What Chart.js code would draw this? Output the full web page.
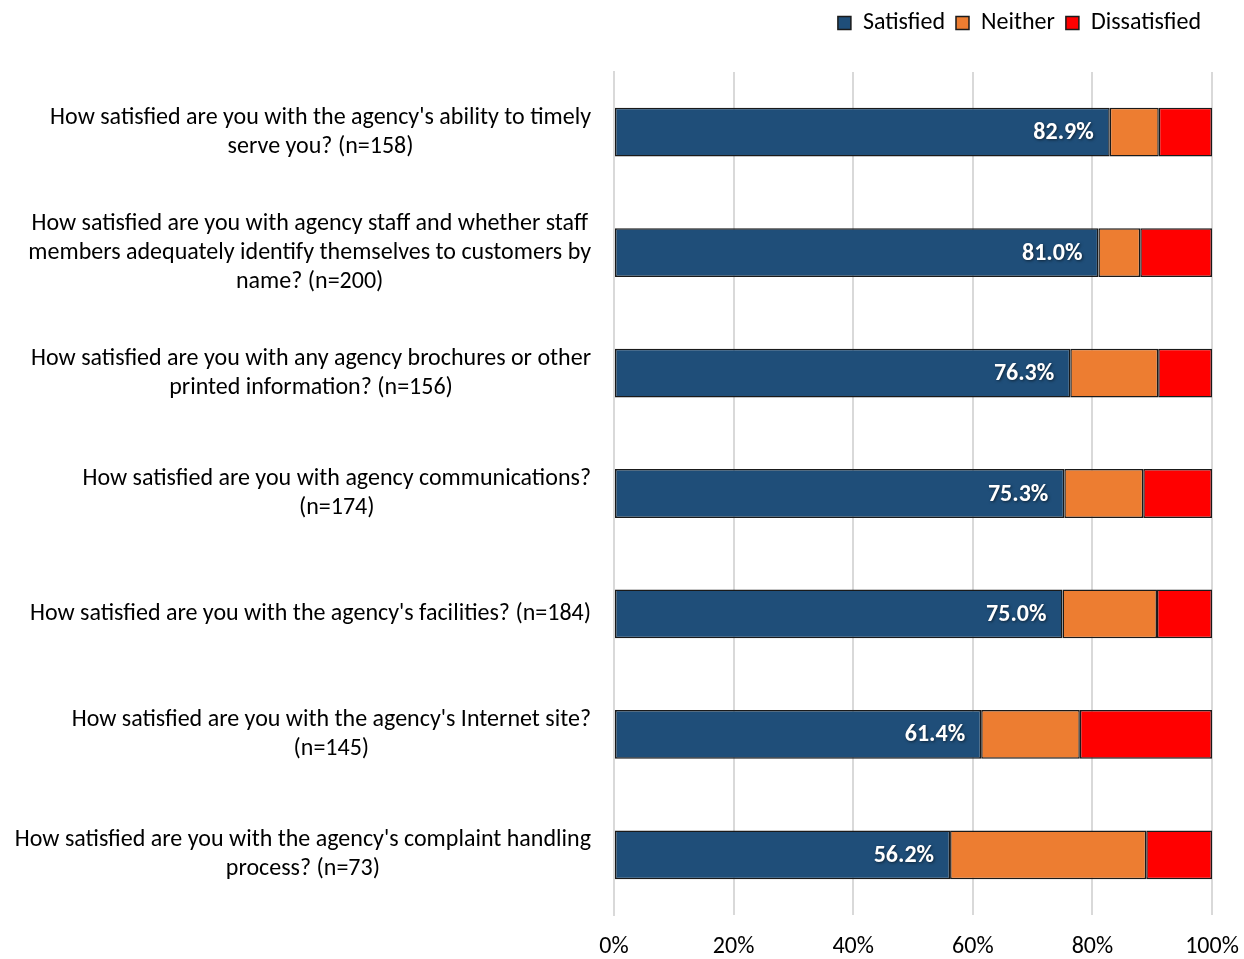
<!DOCTYPE html>
<html>
<head>
<meta charset="utf-8">
<script src="https://cdn.jsdelivr.net/npm/chart.js@4/dist/chart.umd.min.js"></script>
<style>
  body { margin: 0; background: #fff; }
  #wrap { width: 1244px; height: 959px; position: relative; }
</style>
</head>
<body>
<div id="wrap"><canvas id="chart"></canvas></div>
<script>
const questions = [
  ["How satisfied are you with the agency's ability to timely", "serve you? (n=158)"],
  ["How satisfied are you with agency staff and whether staff", "members adequately identify themselves to customers by", "name? (n=200)"],
  ["How satisfied are you with any agency brochures or other", "printed information? (n=156)"],
  ["How satisfied are you with agency communications?", "(n=174)"],
  ["How satisfied are you with the agency's facilities? (n=184)"],
  ["How satisfied are you with the agency's Internet site?", "(n=145)"],
  ["How satisfied are you with the agency's complaint handling", "process? (n=73)"]
];
const satisfied = [82.9, 81.0, 76.3, 75.3, 75.0, 61.4, 56.2];
const neither = [8.2, 7.0, 14.7, 13.2, 15.8, 16.5, 32.8];
const dissatisfied = [8.9, 12.0, 9.0, 11.5, 9.2, 22.1, 11.0];
const xTicks = [0, 20, 40, 60, 80, 100];

const FONT = "Carlito, Calibri, Lato, sans-serif";

// question text: each label centred on its own widest line, right edge near the axis
const questionLabels = {
  id: "questionLabels",
  afterDraw(chart) {
    const ctx = chart.ctx;
    const y = chart.scales.y;
    const right = y.right - 23;
    const lineH = 29;
    ctx.save();
    ctx.font = "24px " + FONT;
    ctx.fillStyle = "#000";
    ctx.textAlign = "center";
    ctx.textBaseline = "middle";
    questions.forEach((lines, i) => {
      const cy = y.getPixelForValue(i);
      const maxW = Math.max(...lines.map(l => ctx.measureText(l).width));
      const cx = right - maxW / 2;
      const top = cy - (lines.length - 1) * lineH / 2;
      lines.forEach((l, k) => ctx.fillText(l, cx, top + k * lineH));
    });
    ctx.restore();
  }
};

// percentage inside the end of the satisfied bar
const satisfiedValues = {
  id: "satisfiedValues",
  afterDatasetsDraw(chart) {
    const ctx = chart.ctx;
    const x = chart.scales.x;
    const y = chart.scales.y;
    ctx.save();
    ctx.font = "bold 24px " + FONT;
    ctx.fillStyle = "#fff";
    ctx.textAlign = "right";
    ctx.textBaseline = "middle";
    ctx.shadowColor = "rgba(0,0,0,0.55)";
    ctx.shadowBlur = 3;
    ctx.shadowOffsetX = 1;
    ctx.shadowOffsetY = 1;
    satisfied.forEach((v, i) => {
      ctx.fillText(v.toFixed(1) + "%", x.getPixelForValue(v) - 16, y.getPixelForValue(i) + 1);
    });
    ctx.restore();
  }
};

// extra room between the legend and the plot
const legendGap = {
  id: "legendGap",
  beforeInit(chart) {
    const fit = chart.legend.fit;
    chart.legend.fit = function () {
      fit.call(this);
      this.height += 27;
    };
  }
};

const barStyle = {
  borderColor: "#1a1a1a",
  borderWidth: 1.5,
  borderSkipped: false,
  barPercentage: 0.405,
  categoryPercentage: 1.0
};

new Chart(document.getElementById("chart"), {
  type: "bar",
  data: {
    labels: questions,
    datasets: [
      { label: "Satisfied", data: satisfied, backgroundColor: "#1F4E79", ...barStyle },
      { label: "Neither", data: neither, backgroundColor: "#ED7D31", ...barStyle },
      { label: "Dissatisfied", data: dissatisfied, backgroundColor: "#FF0000", ...barStyle }
    ]
  },
  options: {
    indexAxis: "y",
    responsive: true,
    maintainAspectRatio: false,
    animation: false,
    layout: { padding: { left: 0, right: 32, top: 0, bottom: 0 } },
    plugins: {
      tooltip: { enabled: false },
      legend: {
        position: "top",
        align: "end",
        labels: {
          boxWidth: 13,
          boxHeight: 13,
          color: "#000",
          font: { family: FONT, size: 24 },
          padding: 11
        }
      }
    },
    scales: {
      x: {
        stacked: true,
        min: 0,
        max: 100,
        afterBuildTicks(scale) {
          scale.ticks = xTicks.map(v => ({ value: v }));
        },
        afterFit(scale) {
          scale.height = 44;
          scale.paddingLeft = 0;
          scale.paddingRight = 0;
        },
        grid: { color: "#d9d9d9", lineWidth: 2, drawTicks: false },
        border: { display: false },
        ticks: {
          padding: 18,
          color: "#000",
          font: { family: FONT, size: 24 },
          callback: v => v + "%"
        }
      },
      y: {
        stacked: true,
        afterFit(scale) { scale.width = 614; },
        grid: { display: false },
        border: { display: true, color: "#d9d9d9", width: 2 },
        ticks: { display: false }
      }
    }
  },
  plugins: [questionLabels, satisfiedValues, legendGap]
});
</script>
</body>
</html>
